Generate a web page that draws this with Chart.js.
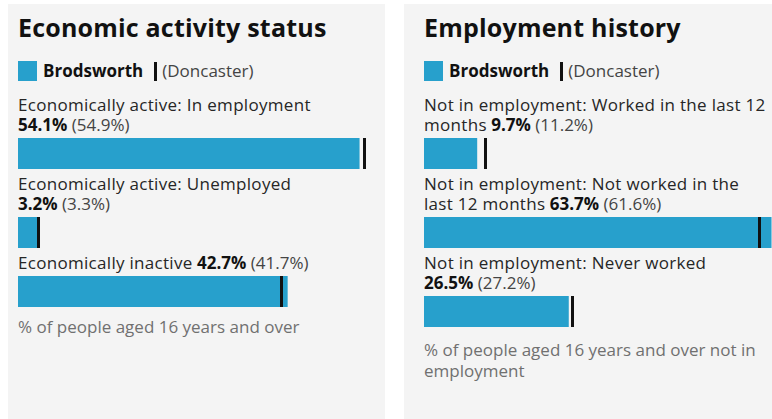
<!DOCTYPE html>
<html>
<head>
<meta charset="utf-8">
<script src="https://cdn.jsdelivr.net/npm/chart.js@4"></script>
<style>
  html, body { margin: 0; padding: 0; background: #ffffff; width: 772px; height: 419px; overflow: hidden; }
  body { font-family: "Open Sans", sans-serif; color: #222222; position: relative; }
  .panel { position: absolute; top: 4px; height: 430px; background: #f4f4f4; box-sizing: border-box; padding-top: 8px; }
  #p1 { left: 8px; width: 377px; padding-left: 10px; }
  #p2 { left: 404px; width: 380px; padding-left: 20px; }
  h2 { margin: 0; font-size: 25px; line-height: 30px; font-weight: 700; color: #111; letter-spacing: 0.2px; }
  .legend { margin-top: 19px; height: 20px; position: relative; font-size: 17px; line-height: 20px; }
  .legend .sq { position: absolute; left: 0; top: 0; width: 19px; height: 20px; }
  .legend .name { position: absolute; left: 25px; top: 0; font-weight: 700; color: #111; white-space: nowrap; }
  .legend .tick { position: absolute; top: 1px; width: 3px; height: 19px; background: #111; }
  .legend .cmp { position: absolute; top: 0; color: #444; white-space: nowrap; }
  .label { font-size: 17px; line-height: 20px; margin: 0; color: #262626; }
  .label .cat { letter-spacing: 0.3px; }
  .label b { color: #111; }
  .label .val { white-space: nowrap; }
  .label .cmpv { color: #444; }
  .first { margin-top: 14px; }
  .bar { display: block; margin-top: 3px; margin-bottom: 5px; }
  .note { font-size: 17px; line-height: 21px; color: #707070; }
  #p1 .note { margin-top: 9px; }
  #p2 .note { margin-top: 12px; }
</style>
</head>
<body>
<div class="panel" id="p1"></div>
<div class="panel" id="p2"></div>
<script>
// ---- data ----
const titles = ["Economic activity status", "Employment history"];
const areaName = "Brodsworth";
const compareName = "(Doncaster)";
const categories1 = ["Economically active: In employment", "Economically active: Unemployed", "Economically inactive"];
const values1 = [54.1, 3.2, 42.7];
const compare1 = [54.9, 3.3, 41.7];
const categories2 = ["Not in employment: Worked in the last 12 months", "Not in employment: Not worked in the last 12 months", "Not in employment: Never worked"];
const values2 = [9.7, 63.7, 26.5];
const compare2 = [11.2, 61.6, 27.2];
const notes = ["% of people aged 16 years and over", "% of people aged 16 years and over not in employment"];
const axisMax = [56.6, 65.5];

// ---- style ----
const BAR_COLOR = "#27a0cc";
const MARK_COLOR = "#111111";

const markerPlugin = {
  id: "marker",
  afterDatasetsDraw(chart, args, opts) {
    const ctx = chart.ctx;
    const xs = chart.scales.x;
    const x = xs.getPixelForValue(opts.value);
    ctx.save();
    ctx.fillStyle = MARK_COLOR;
    ctx.fillRect(Math.round(x - 1.5), chart.chartArea.top, 3, chart.chartArea.bottom - chart.chartArea.top);
    ctx.restore();
  }
};

function buildPanel(el, title, cats, vals, comps, note, max, canvasW, wrapW) {
  const h = document.createElement("h2");
  h.textContent = title;
  el.appendChild(h);
  const lg = document.createElement("div");
  lg.className = "legend";
  lg.innerHTML = '<div class="sq" style="background:' + BAR_COLOR + '"></div>' +
    '<div class="name"></div><div class="tick"></div><div class="cmp"></div>';
  lg.querySelector(".name").textContent = areaName;
  lg.querySelector(".cmp").textContent = compareName;
  el.appendChild(lg);
  const nameW = lg.querySelector(".name").getBoundingClientRect().width;
  lg.querySelector(".tick").style.left = (25 + nameW + 11) + "px";
  lg.querySelector(".cmp").style.left = (25 + nameW + 19) + "px";

  cats.forEach((c, i) => {
    const p = document.createElement("div");
    p.className = "label" + (i === 0 ? " first" : "");
    p.style.width = wrapW + "px";
    const ct = document.createElement("span");
    ct.className = "cat";
    ct.textContent = c;
    p.appendChild(ct);
    p.appendChild(document.createTextNode(" "));
    const v = document.createElement("span");
    v.className = "val";
    const b = document.createElement("b");
    b.textContent = vals[i].toFixed(1) + "%";
    v.appendChild(b);
    const s = document.createElement("span");
    s.className = "cmpv";
    s.textContent = " (" + comps[i].toFixed(1) + "%)";
    v.appendChild(s);
    p.appendChild(v);
    el.appendChild(p);

    const cv = document.createElement("canvas");
    cv.className = "bar";
    cv.width = canvasW; cv.height = 31;
    cv.style.width = canvasW + "px"; cv.style.height = "31px";
    el.appendChild(cv);
    new Chart(cv, {
      type: "bar",
      data: { labels: [c], datasets: [{ data: [vals[i]], backgroundColor: BAR_COLOR, borderWidth: 0, barPercentage: 1, categoryPercentage: 1 }] },
      options: {
        indexAxis: "y",
        responsive: false,
        animation: false,
        layout: { padding: 0 },
        scales: {
          x: { display: false, min: 0, max: max },
          y: { display: false }
        },
        plugins: { legend: { display: false }, tooltip: { enabled: false }, marker: { value: comps[i] } }
      },
      plugins: [markerPlugin]
    });
  });
  const n = document.createElement("div");
  n.className = "note";
  n.style.width = wrapW + "px";
  n.textContent = note;
  el.appendChild(n);
}

buildPanel(document.getElementById("p1"), titles[0], categories1, values1, compare1, notes[0], axisMax[0], 357, 357);
buildPanel(document.getElementById("p2"), titles[1], categories2, values2, compare2, notes[1], axisMax[1], 357, 343);
</script>
</body>
</html>
